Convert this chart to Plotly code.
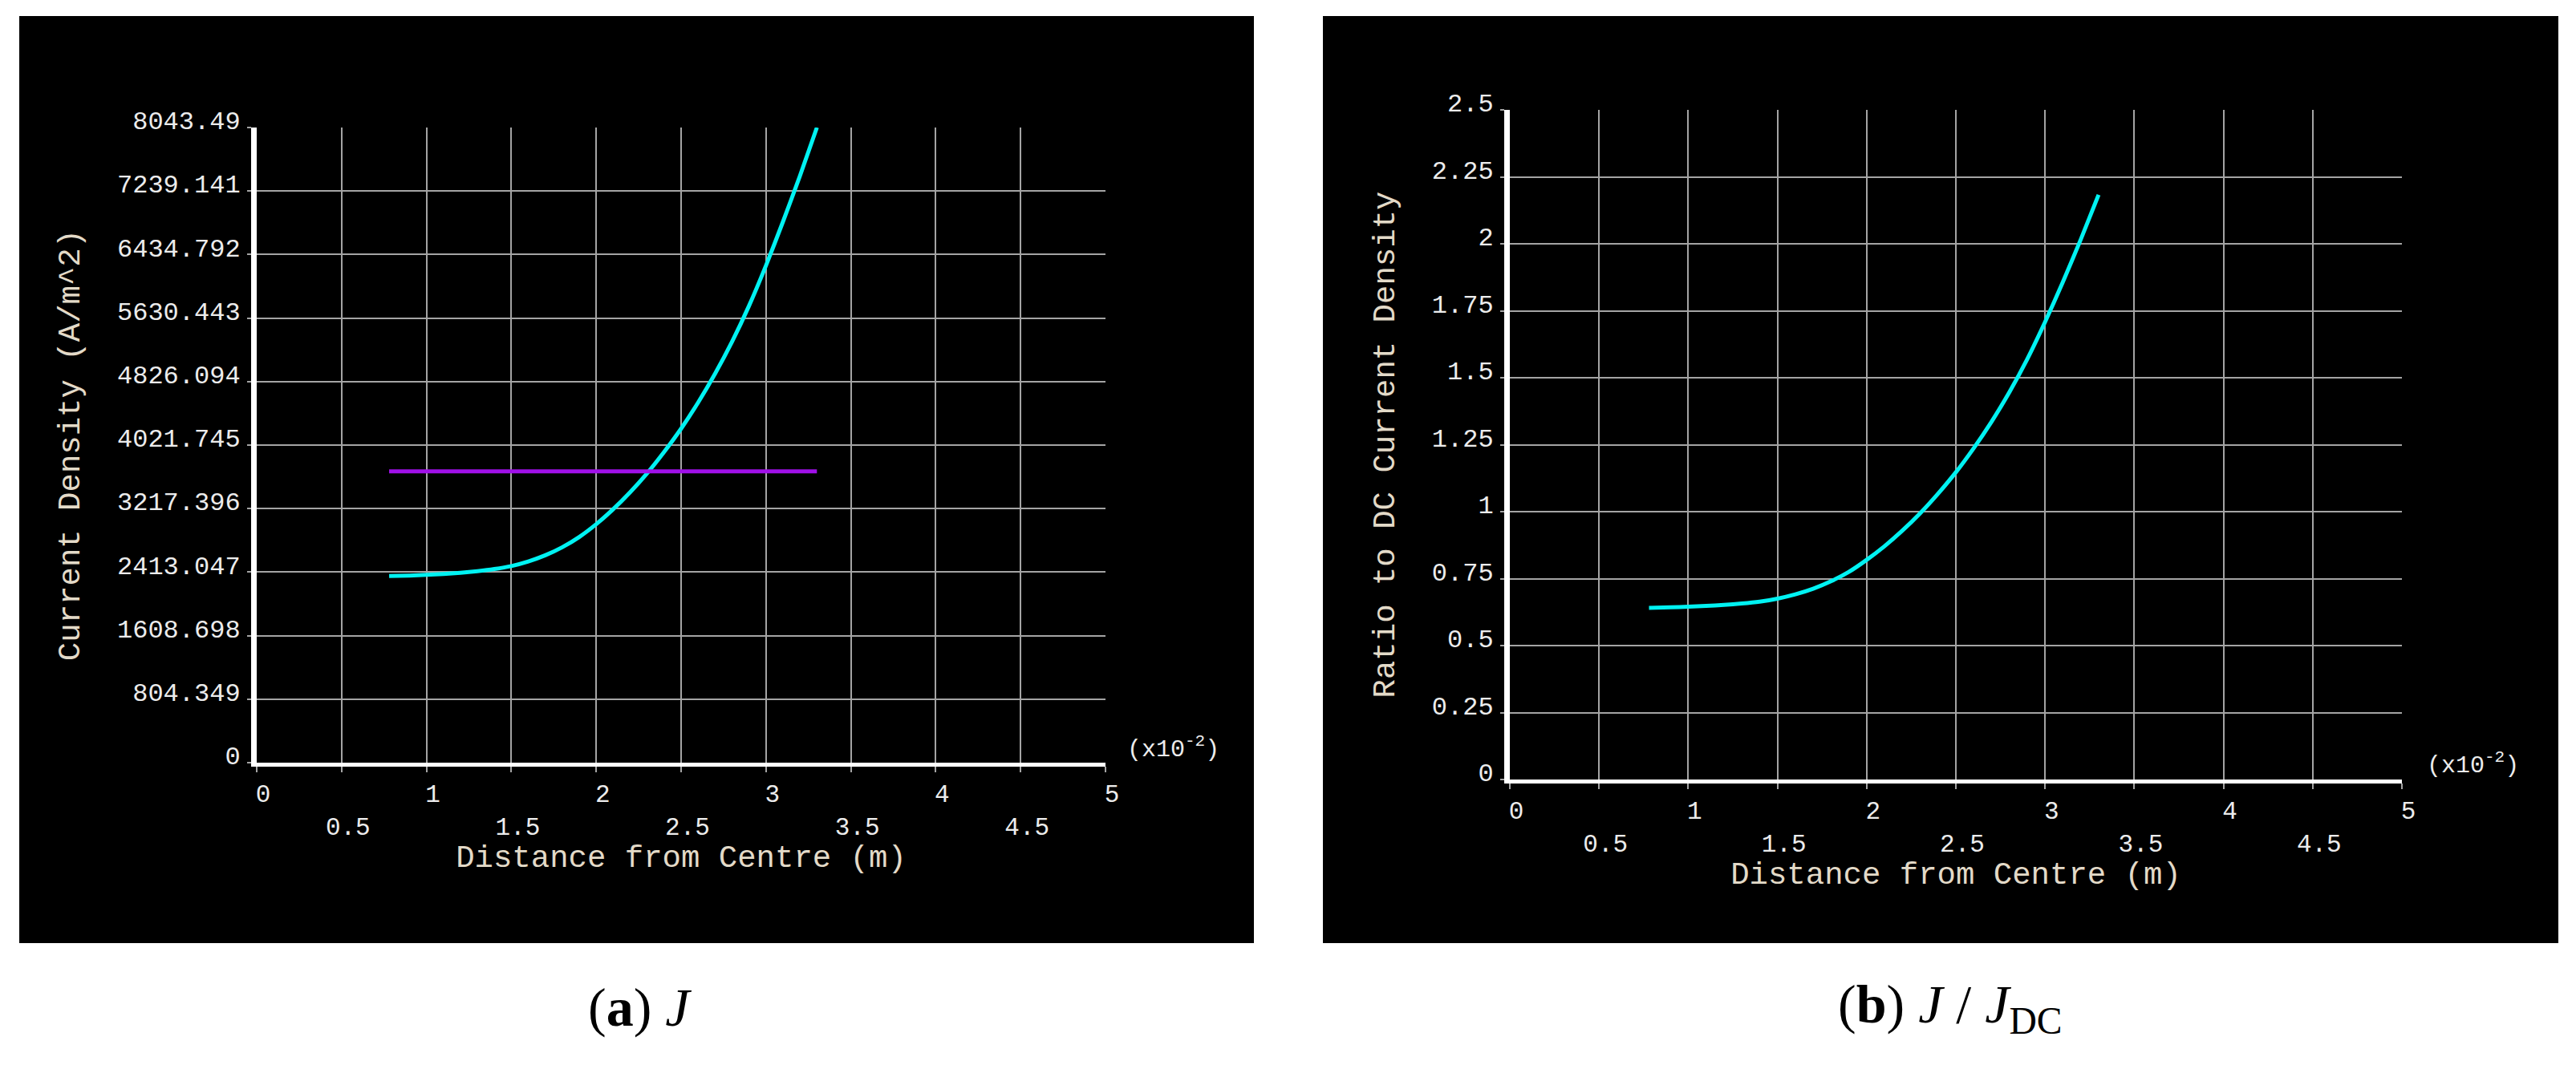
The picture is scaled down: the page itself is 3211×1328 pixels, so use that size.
import plotly.graph_objects as go

# ---- data ----
x_pos = [0.78, 0.9, 1.0, 1.1, 1.2, 1.3, 1.4, 1.5, 1.6, 1.7, 1.8, 1.9, 2.0,
         2.1, 2.2, 2.3, 2.4, 2.5, 2.6, 2.7, 2.8, 2.9, 3.0, 3.1, 3.2, 3.3]
j_vals = [2365, 2370, 2378, 2390, 2405, 2425, 2452, 2490, 2548, 2626, 2728, 2858, 3020,
          3210, 3425, 3665, 3935, 4230, 4560, 4925, 5330, 5785, 6295, 6850, 7430, 8043.49]
ratio_vals = [0.641, 0.643, 0.645, 0.648, 0.652, 0.657, 0.664, 0.675, 0.691, 0.712, 0.740, 0.775, 0.820,
              0.871, 0.929, 0.994, 1.067, 1.147, 1.237, 1.336, 1.446, 1.569, 1.708, 1.858, 2.016, 2.183]
jdc_x = [0.78, 3.3]
jdc_y = [3690, 3690]

x_ticks = [0, 0.5, 1, 1.5, 2, 2.5, 3, 3.5, 4, 4.5, 5]
x_ticktext = ["0", "<br>0.5", "1", "<br>1.5", "2", "<br>2.5", "3", "<br>3.5", "4", "<br>4.5", "5"]
j_ticks = [0, 804.349, 1608.698, 2413.047, 3217.396, 4021.745, 4826.094, 5630.443, 6434.792, 7239.141, 8043.49]
j_ticktext = ["0", "804.349", "1608.698", "2413.047", "3217.396", "4021.745", "4826.094",
              "5630.443", "6434.792", "7239.141", "8043.49"]
r_ticks = [0, 0.25, 0.5, 0.75, 1, 1.25, 1.5, 1.75, 2, 2.25, 2.5]
r_ticktext = ["0", "0.25", "0.5", "0.75", "1", "1.25", "1.5", "1.75", "2", "2.25", "2.5"]

W, H = 3211, 1328
MONO = "Liberation Mono"
TICKC = "#ececec"
TITLEC = "#e3dac8"
GRID = "#a4a4a4"
CYAN = "#00f2f2"
PURPLE = "#a010e8"

fig = go.Figure()
fig.add_trace(go.Scatter(x=x_pos, y=j_vals, mode="lines", line=dict(color=CYAN, width=5, shape="spline", smoothing=0.6),
                         xaxis="x", yaxis="y", showlegend=False, hoverinfo="skip"))
fig.add_trace(go.Scatter(x=jdc_x, y=jdc_y, mode="lines", line=dict(color=PURPLE, width=5),
                         xaxis="x", yaxis="y", showlegend=False, hoverinfo="skip"))
fig.add_trace(go.Scatter(x=x_pos, y=ratio_vals, mode="lines", line=dict(color=CYAN, width=5, shape="spline", smoothing=0.6),
                         xaxis="x2", yaxis="y2", showlegend=False, hoverinfo="skip"))

def px_x(p):
    return p / W

def px_y(p):
    return (H - p) / H

common_x = dict(range=[0, 5], tickmode="array", tickvals=x_ticks, ticktext=x_ticktext,
                showgrid=True, gridcolor=GRID, gridwidth=2, zeroline=False,
                showline=True, linecolor="white", linewidth=5,
                ticks="outside", ticklen=7, tickwidth=2, tickcolor=GRID,
                tickfont=dict(family=MONO, size=31, color=TICKC),
                ticklabelshift=8, ticklabelstandoff=0, automargin=False,
                title=dict(text="Distance from Centre (m)", font=dict(family=MONO, size=39, color=TITLEC), standoff=6),
                fixedrange=True)
common_y = dict(tickmode="array", showgrid=True, gridcolor=GRID, gridwidth=2, zeroline=False,
                showline=True, linecolor="white", linewidth=7,
                ticks="outside", ticklen=5, tickwidth=2, tickcolor=GRID,
                tickfont=dict(family=MONO, size=32, color=TICKC),
                ticklabelshift=-9, ticklabelstandoff=2, automargin=False, fixedrange=True)

fig.update_layout(
    width=W, height=H, margin=dict(l=0, r=0, t=0, b=0, pad=0, autoexpand=False),
    paper_bgcolor="white", plot_bgcolor="black",
    xaxis=dict(domain=[px_x(320), px_x(1378)], anchor="y", **common_x),
    yaxis=dict(domain=[px_y(951), px_y(159)], anchor="x", range=[0, 8043.49],
               tickvals=j_ticks, ticktext=j_ticktext,
               title=dict(text="Current Density (A/m^2)", font=dict(family=MONO, size=39, color=TITLEC), standoff=37),
               **common_y),
    xaxis2=dict(domain=[px_x(1882), px_x(2994)], anchor="y2", **common_x),
    yaxis2=dict(domain=[px_y(972), px_y(137)], anchor="x2", range=[0, 2.5],
                tickvals=r_ticks, ticktext=r_ticktext,
                title=dict(text="Ratio to DC Current Density", font=dict(family=MONO, size=39, color=TITLEC), standoff=37),
                **common_y),
    shapes=[
        dict(type="rect", xref="paper", yref="paper", x0=px_x(24), x1=px_x(1563), y0=px_y(1176), y1=px_y(20),
             fillcolor="black", line=dict(width=0), layer="below"),
        dict(type="rect", xref="paper", yref="paper", x0=px_x(1649), x1=px_x(3189), y0=px_y(1176), y1=px_y(20),
             fillcolor="black", line=dict(width=0), layer="below"),
    ],
    annotations=[
        dict(text="(x10<sup>-2</sup>)", xref="paper", yref="paper", x=px_x(1403), y=px_y(932),
             xanchor="left", yanchor="middle", showarrow=False, font=dict(family=MONO, size=30, color=TICKC)),
        dict(text="(x10<sup>-2</sup>)", xref="paper", yref="paper", x=px_x(3023), y=px_y(952),
             xanchor="left", yanchor="middle", showarrow=False, font=dict(family=MONO, size=30, color=TICKC)),
        dict(text="(<b>a</b>) <i>J</i>", xref="paper", yref="paper", x=px_x(797), y=px_y(1256),
             xanchor="center", yanchor="middle", showarrow=False, font=dict(family="Liberation Serif", size=68, color="black")),
        dict(text="(<b>b</b>) <i>J</i> / <i>J</i><sub>DC</sub>", xref="paper", yref="paper", x=px_x(2431), y=px_y(1256),
             xanchor="center", yanchor="middle", showarrow=False, font=dict(family="Liberation Serif", size=68, color="black")),
    ],
)

post = (
    "var de=document.documentElement,b=document.body;"
    "de.style.margin='0';de.style.padding='0';de.style.overflow='hidden';"
    "b.style.margin='0';b.style.padding='0';b.style.overflow='hidden';"
    "var gd=document.getElementById('{plot_id}');"
    "if(gd&&gd.parentElement){gd.parentElement.style.height='1328px';gd.parentElement.style.overflow='hidden';}"
)

fig.write_html("out.html", post_script=post, config={"displayModeBar": False, "staticPlot": True})
